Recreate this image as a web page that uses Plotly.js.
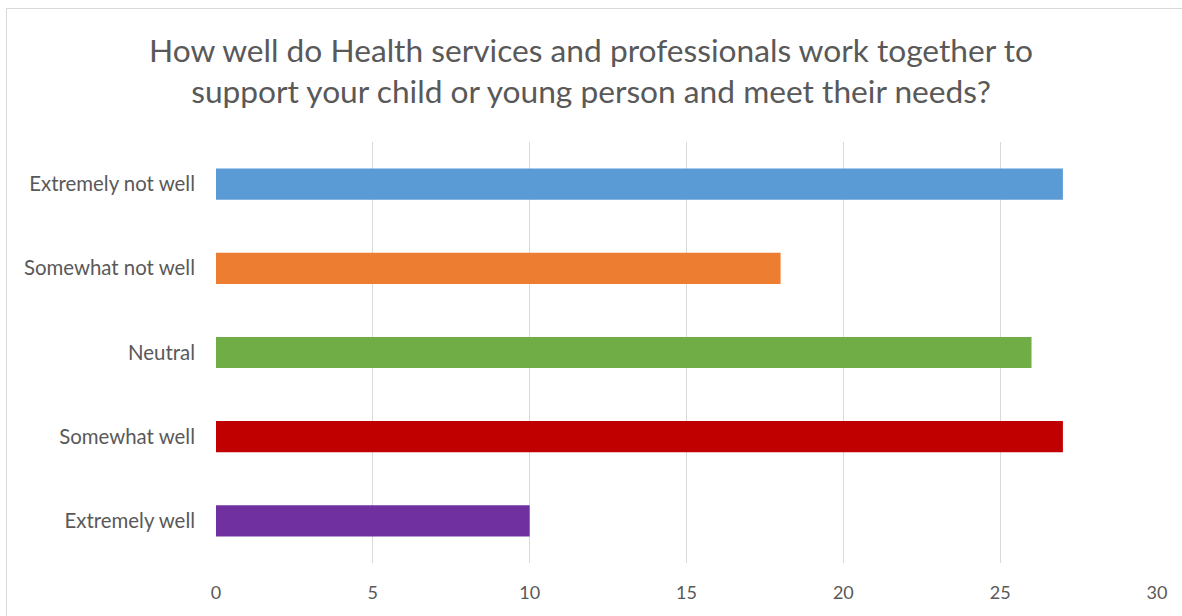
<!DOCTYPE html>
<html>
<head>
<meta charset="utf-8">
<script src="https://cdn.plot.ly/plotly-3.0.1.min.js"></script>
<style>
  html, body { margin: 0; padding: 0; background: #ffffff; overflow: hidden; }
  #frame { position: absolute; left: 6px; top: 8px; width: 1300px; height: 800px; border: 1px solid #d9d9d9; box-sizing: border-box; }
  #chart { position: absolute; left: 0; top: 0; width: 1182px; height: 616px; }
</style>
</head>
<body>
<div id="frame"></div>
<div id="chart"></div>
<script>
const categories = ["Extremely not well", "Somewhat not well", "Neutral", "Somewhat well", "Extremely well"];
const values = [27, 18, 26, 27, 10];
const barColors = ["#5B9BD5", "#ED7D31", "#70AD47", "#C00000", "#7030A0"];
const xTicks = [0, 5, 10, 15, 20, 25, 30];
const titleText = "How well do Health services and professionals work together to<br>support your child or young person and meet their needs?";

const FONT = "Lato, 'Open Sans', sans-serif";

const trace = {
  type: "bar",
  orientation: "h",
  y: categories,
  x: values,
  marker: { color: barColors, line: { width: 0 } },
  hoverinfo: "x+y"
};

const layout = {
  width: 1182,
  height: 616,
  paper_bgcolor: "rgba(0,0,0,0)",
  plot_bgcolor: "rgba(0,0,0,0)",
  margin: { l: 216, r: 25, t: 142, b: 53 },
  font: { family: FONT, color: "#595959", size: 18 },
  title: {
    text: titleText,
    font: { family: FONT, size: 31.7, color: "#595959" },
    x: 0.5, xanchor: "center",
    y: 0.899, yanchor: "middle",
    yref: "container"
  },
  bargap: 0.63,
  showlegend: false,
  xaxis: {
    range: [0, 30],
    tickvals: xTicks,
    ticktext: xTicks.map(String),
    showgrid: true,
    gridcolor: "#d9d9d9",
    gridwidth: 1,
    zeroline: false,
    showline: false,
    ticks: "",
    ticklabelstandoff: 17,
    tickfont: { family: FONT, size: 18, color: "#595959" },
    fixedrange: true
  },
  yaxis: {
    type: "category",
    categoryorder: "array",
    categoryarray: categories,
    autorange: "reversed",
    showgrid: false,
    zeroline: false,
    showline: false,
    ticks: "",
    ticklabelstandoff: 20,
    tickfont: { family: FONT, size: 20.4, color: "#595959" },
    fixedrange: true
  }
};

Plotly.newPlot("chart", [trace], layout, { displayModeBar: false, responsive: false });
</script>
</body>
</html>
